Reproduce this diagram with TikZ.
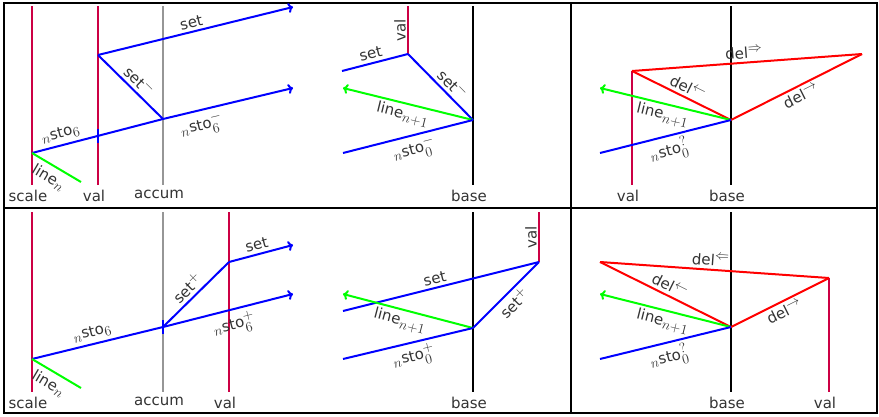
\documentclass[tikz,border=0pt]{standalone}
\usepackage{amsmath}
\usepackage{fix-cm}
\usepackage[no-math]{fontspec}
\newfontfamily\diagfont{DejaVu Sans}
\usepackage{xcolor}
\usepackage{tikz}
\usetikzlibrary{positioning,arrows.meta,calc}
\definecolor{regred}{RGB}{204,0,68}
\definecolor{accgray}{RGB}{150,150,150}
\DeclareMathSizes{15}{16}{14}{12}

\begin{document}
\begin{tikzpicture}[
  x=1pt, y=-1pt,
  font=\diagfont\fontsize{15}{18}\selectfont,
  every node/.style={text=black!80},
  reg/.style={regred, line width=2pt},
  acc/.style={accgray, line width=2pt},
  basel/.style={black, line width=2pt},
  sto/.style={blue, line width=2pt},
  stoarr/.style={sto, -{To[length=5pt,width=10pt]}},
  nxt/.style={green, line width=2pt},
  nxtarr/.style={nxt, -{To[length=5pt,width=10pt]}},
  del/.style={red, line width=2pt},
  grid/.style={black, line width=2pt},
  lbl/.style={inner sep=3pt, sloped},
  vlbl/.style={rotate=90, anchor=south, inner sep=2pt}
]
\useasboundingbox (0,0) rectangle (879,416);

% ---- table frame ----
\coordinate (fnw) at (4,3);
\coordinate (fse) at (877,413);
\coordinate (fw) at (4,208);
\coordinate (fe) at (877,208);
\coordinate (fn) at (571,3);
\coordinate (fs) at (571,413);
\draw[grid] (fnw) rectangle (fse);
\draw[grid] (fw) -- (fe);
\draw[grid] (fn) -- (fs);

% ---- (1) top left ----
\coordinate (sc1t) at (32,6);   \coordinate (sc1b) at (32,185);
\coordinate (va1t) at (98,6);   \coordinate (va1b) at (98,185);
\coordinate (ac1t) at (163,6);  \coordinate (ac1b) at (163,185);
\coordinate (p1) at (32,153);
\coordinate (q1) at (163,119);
\coordinate (r1) at (98,55);
\coordinate (e1) at (293,7);
\coordinate (f1) at (293,88);
\coordinate (g1) at (81,182);
\coordinate (x1) at ($(p1)!0.504!(q1)$);
\draw[reg] (sc1t) -- (sc1b);
\draw[reg] (va1t) -- (va1b);
\draw[acc] (ac1t) -- (ac1b);
\draw[stoarr] (r1) -- node[lbl, above, pos=0.49] (l1set) {set} (e1);
\draw[sto] (r1) -- node[lbl, above, pos=0.52] (l1setm) {set$^-$} (q1);
\draw[sto] (p1) -- node[lbl, above, pos=0.24] (l1sto) {$_n$sto$_6$} (q1);
\draw[stoarr] (q1) -- node[lbl, below, pos=0.27, inner sep=4pt] (l1stom) {$_n$sto$_6^-$} (f1);
\draw[sto] ([yshift=7pt]x1) -- ([yshift=-7pt]x1);
\draw[nxt] (p1) -- node[lbl, below, pos=0.47, inner sep=5pt] (l1line) {line$_n$} (g1);

% ---- (2) top middle ----
\coordinate (va2t) at (408,6);  \coordinate (r2) at (408,54);
\coordinate (ba2t) at (473,6);  \coordinate (ba2b) at (473,185);
\coordinate (s2) at (342,71);
\coordinate (o2) at (473,120);
\coordinate (g2) at (343,88);
\coordinate (t2) at (343,153);
\draw[reg] (va2t) -- (r2);
\draw[basel] (ba2t) -- (ba2b);
\node[vlbl] (l2val) at ($(va2t)!0.5!(r2)$) {val};
\draw[sto] (s2) -- node[lbl, above, pos=0.47] (l2set) {set} (r2);
\draw[sto] (r2) -- node[lbl, above, pos=0.57] (l2setm) {set$^-$} (o2);
\draw[nxtarr] (o2) -- node[lbl, below, pos=0.52] (l2line) {line$_{n+1}$} (g2);
\draw[sto] (t2) -- node[lbl, below, pos=0.52] (l2sto) {$_n$sto$_0^-$} (o2);

% ---- (3) top right ----
\coordinate (r3) at (632,71);   \coordinate (va3b) at (632,185);
\coordinate (ba3t) at (731,6);  \coordinate (ba3b) at (731,185);
\coordinate (o3) at (731,120);
\coordinate (k3) at (862,54);
\coordinate (g3) at (600,88);
\coordinate (t3) at (600,153);
\draw[basel] (ba3t) -- (ba3b);
\draw[reg] (r3) -- (va3b);
\draw[del] (r3) -- node[lbl, above, pos=0.49] (l3dd) {del$^\Rightarrow$} (k3);
\draw[del] (r3) -- node[lbl, above, pos=0.52] (l3dl) {del$^\leftarrow$} (o3);
\draw[del] (o3) -- node[lbl, below, pos=0.5] (l3dr) {del$^\rightarrow$} (k3);
\draw[nxtarr] (o3) -- node[lbl, below, pos=0.5] (l3line) {line$_{n+1}$} (g3);
\draw[sto] (t3) -- node[lbl, below, pos=0.5] (l3sto) {$_n$sto$_0^?$} (o3);

% ---- (4) bottom left ----
\coordinate (sc4t) at (32,212);  \coordinate (sc4b) at (32,392);
\coordinate (ac4t) at (163,212); \coordinate (ac4b) at (163,392);
\coordinate (va4t) at (229,212); \coordinate (va4b) at (229,392);
\coordinate (p4) at (32,359);
\coordinate (q4) at (163,327);
\coordinate (r4) at (229,262);
\coordinate (e4) at (293,245);
\coordinate (f4) at (293,294);
\coordinate (g4) at (81,388);
\draw[reg] (sc4t) -- (sc4b);
\draw[acc] (ac4t) -- (ac4b);
\draw[reg] (va4t) -- (va4b);
\draw[sto] (p4) -- node[lbl, above, pos=0.48] (l4sto) {$_n$sto$_6$} (q4);
\draw[stoarr] (q4) -- node[lbl, below, pos=0.52, inner sep=4pt] (l4stop) {$_n$sto$_6^+$} (f4);
\draw[sto] (q4) -- node[lbl, above, pos=0.48] (l4setp) {set$^+$} (r4);
\draw[stoarr] (r4) -- node[lbl, above, pos=0.47] (l4set) {set} (e4);
\draw[sto] ([yshift=7pt]q4) -- ([yshift=-7pt]q4);
\draw[nxt] (p4) -- node[lbl, below, pos=0.47, inner sep=5pt] (l4line) {line$_n$} (g4);

% ---- (5) bottom middle ----
\coordinate (ba5t) at (473,212); \coordinate (ba5b) at (473,392);
\coordinate (va5t) at (539,212); \coordinate (r5) at (539,262);
\coordinate (s5) at (343,311);
\coordinate (o5) at (473,328);
\coordinate (g5) at (343,294);
\coordinate (t5) at (343,359);
\draw[basel] (ba5t) -- (ba5b);
\draw[reg] (va5t) -- (r5);
\node[vlbl] (l5val) at ($(va5t)!0.5!(r5)$) {val};
\draw[sto] (s5) -- node[lbl, above, pos=0.48] (l5set) {set} (r5);
\draw[sto] (o5) -- node[lbl, below, pos=0.5] (l5setp) {set$^+$} (r5);
\draw[nxtarr] (o5) -- node[lbl, below, pos=0.54] (l5line) {line$_{n+1}$} (g5);
\draw[sto] (t5) -- node[lbl, below, pos=0.52] (l5sto) {$_n$sto$_0^+$} (o5);

% ---- (6) bottom right ----
\coordinate (ba6t) at (731,212); \coordinate (ba6b) at (731,392);
\coordinate (k6) at (600,262);
\coordinate (r6) at (829,278);   \coordinate (va6b) at (829,392);
\coordinate (o6) at (731,327);
\coordinate (g6) at (600,294);
\coordinate (t6) at (600,359);
\draw[basel] (ba6t) -- (ba6b);
\draw[reg] (r6) -- (va6b);
\draw[del] (k6) -- node[lbl, above, pos=0.48] (l6dd) {del$^\Leftarrow$} (r6);
\draw[del] (k6) -- node[lbl, above, pos=0.5] (l6dl) {del$^\leftarrow$} (o6);
\draw[del] (o6) -- node[lbl, below, pos=0.5] (l6dr) {del$^\rightarrow$} (r6);
\draw[nxtarr] (o6) -- node[lbl, below, pos=0.5] (l6line) {line$_{n+1}$} (g6);
\draw[sto] (t6) -- node[lbl, below, pos=0.5] (l6sto) {$_n$sto$_0^?$} (o6);

% ---- register names under the lines ----
\foreach \c/\t in {sc1b/scale, va1b/val, ac1b/accum, ba2b/base, va3b/val, ba3b/base,
                   sc4b/scale, ac4b/accum, va4b/val, ba5b/base, ba6b/base, va6b/val}
  \node[below=2pt of \c, xshift=-4pt] (l\c) {\t};
\end{tikzpicture}
\end{document}
